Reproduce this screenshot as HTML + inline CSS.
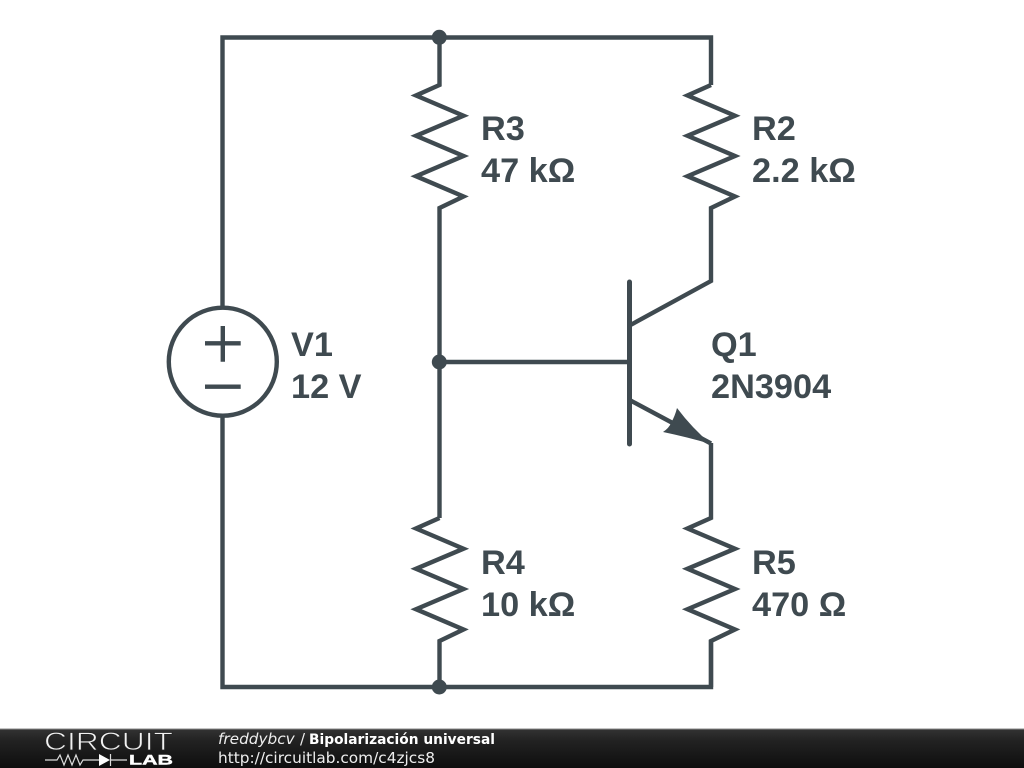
<!DOCTYPE html>
<html>
<head>
<meta charset="utf-8">
<style>
html,body{margin:0;padding:0;background:#fff}
svg{display:block}
</style>
</head>
<body>
<svg width="1024" height="768" viewBox="0 0 1024 768" xmlns="http://www.w3.org/2000/svg">
<defs>
<linearGradient id="bar" x1="0" y1="0" x2="0" y2="1">
<stop offset="0" stop-color="#333"/><stop offset=".3" stop-color="#222"/><stop offset="1" stop-color="#0e0e0e"/>
</linearGradient>
</defs>
<rect width="1024" height="768" fill="#fff"/>
<g fill="none" stroke="#3f4a50" stroke-width="4.400" stroke-linejoin="miter" stroke-linecap="butt">
<!-- outer wires -->
<path d="M222.500 308V37.500H711V85"/>
<path d="M222.500 416V687H711V640"/>
<!-- R3 -->
<path d="M439.500 37.500V85L416 95.500L463.500 115.700L416 135.800L463.500 156L416 176.200L463.500 196.500L439.500 208V518"/>
<!-- R2 -->
<path d="M711 85L687.500 95.500L735 115.700L687.500 135.800L735 156L687.500 176.200L735 196.500L711 208V281L630.500 325"/>
<!-- R4 -->
<path d="M439.500 518L416 528.500L463.500 548.700L416 568.800L463.500 589L416 609.200L463.500 629.500L439.500 641V687"/>
<!-- R5 -->
<path d="M711 443V518L687.500 528.500L735 548.700L687.500 568.800L735 589L687.500 609.200L735 629.500L711 641V687"/>
<!-- base -->
<path d="M439.500 362H630"/>
<path d="M629.500 282V444" stroke-width="5" stroke-linecap="round"/>
<path d="M630.500 400.500L711 443.500"/>
<!-- source -->
<circle cx="222.800" cy="361.700" r="54"/>
<path d="M205 343.300H240.700M222.800 326V361.700M205 386.700H240.700"/>
</g>
<path d="M711 444Q687 437 663 432Q669 428 671 423Q675 416 677 408Q692 428 711 444Z" fill="#3f4a50"/>
<circle cx="439.300" cy="37.300" r="7.500" fill="#3f4a50"/>
<circle cx="439.300" cy="362" r="7.500" fill="#3f4a50"/>
<circle cx="439.300" cy="687" r="7.500" fill="#3f4a50"/>
<g font-family="'Liberation Sans',sans-serif" font-weight="700" font-size="34.300" fill="#3f4a50">
<text x="481" y="140">R3</text><text x="481" y="182">47 kΩ</text>
<text x="752" y="140">R2</text><text x="752" y="182">2.2 kΩ</text>
<text x="291" y="356">V1</text><text x="291" y="398">12 V</text>
<text x="711" y="356">Q1</text><text x="711" y="398">2N3904</text>
<text x="481" y="574">R4</text><text x="481" y="616">10 kΩ</text>
<text x="752" y="574">R5</text><text x="752" y="616">470 Ω</text>
</g>
<!-- footer -->
<rect x="0" y="729" width="1024" height="39" fill="url(#bar)"/>
<rect x="0" y="728.500" width="1024" height="1" fill="#8a8a8a"/>
<text x="44" y="750" font-family="'Liberation Sans',sans-serif" font-size="25" fill="#f2f2f2" stroke="#252525" stroke-width=".8" textLength="129" lengthAdjust="spacingAndGlyphs">CIRCUIT</text>
<text x="129" y="764.500" font-family="'Liberation Sans',sans-serif" font-weight="700" font-size="13.500" fill="#fff" stroke="#fff" stroke-width=".4" textLength="44" lengthAdjust="spacingAndGlyphs">LAB</text>
<g fill="none" stroke="#ddd" stroke-width="1.200">
<path d="M45 760H57L60 755L64 765L68 755L72 765L76 755L80 765L83 760H99M110 760H127"/>
<path d="M110.500 754V766"/>
</g>
<path d="M99 754L110 760L99 766Z" fill="#fff"/>
<g font-family="'DejaVu Sans',sans-serif" fill="#eee">
<text x="218" y="744" font-size="15.300" font-style="italic">freddybcv</text>
<text x="300" y="744" font-size="15">/</text>
<text x="309" y="744" font-size="14.500" font-weight="700" fill="#fff" textLength="186" lengthAdjust="spacingAndGlyphs">Bipolarización universal</text>
<text x="218" y="763" font-size="15.300" textLength="217" lengthAdjust="spacingAndGlyphs">http://circuitlab.com/c4zjcs8</text>
</g>
</svg>
</body>
</html>
